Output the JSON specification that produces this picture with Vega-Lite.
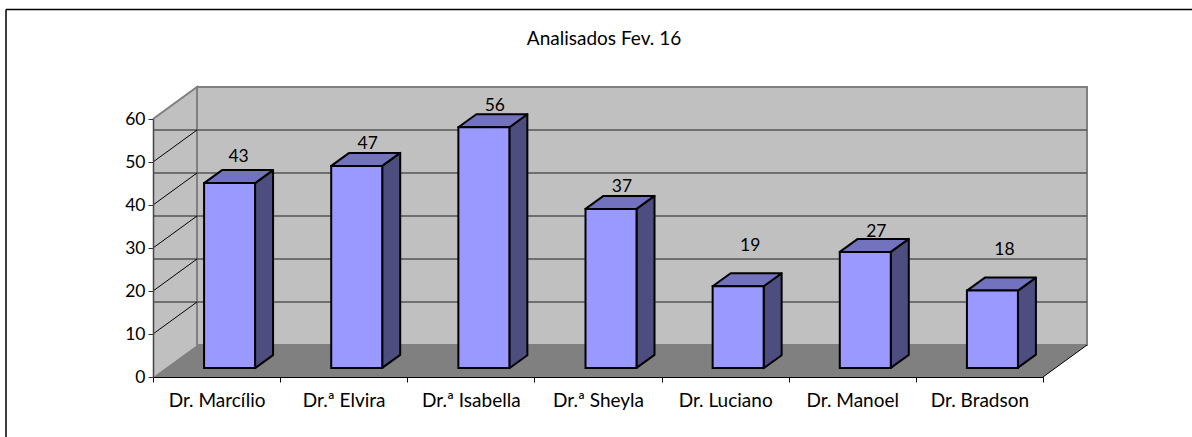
{
"$schema":"https://vega.github.io/schema/vega-lite/v6.json",
"width":890,"height":258,
"autosize":{"type":"none"},
"padding":{"left":153,"top":119,"right":149,"bottom":60},
"background":"white",
"title":{"text":"Analisados Fev. 16","font":"Lato","fontSize":19,"fontWeight":"normal","color":"#000000","anchor":"middle","dx":6,"offset":0,"dy":42},
"config":{"view":{"stroke":null},"font":"Lato"},
"datasets":{
"doctors":[
{"name":"Dr. Marcílio","value":43},
{"name":"Dr.ª Elvira","value":47},
{"name":"Dr.ª Isabella","value":56},
{"name":"Dr.ª Sheyla","value":37},
{"name":"Dr. Luciano","value":19},
{"name":"Dr. Manoel","value":27},
{"name":"Dr. Bradson","value":18}],
"ticks":[{"t":10},{"t":20},{"t":30},{"t":40},{"t":50}],
"one":[{"t":0}]
},
"encoding":{
"x":{"field":"name","type":"nominal","sort":null,"scale":{"type":"band","paddingInner":0,"paddingOuter":0,"domain":["Dr. Marcílio","Dr.ª Elvira","Dr.ª Isabella","Dr.ª Sheyla","Dr. Luciano","Dr. Manoel","Dr. Bradson"]},
"axis":{"title":null,"labelAngle":0,"labelFont":"Lato","labelFontSize":19,"labelColor":"#000000","labelPadding":9,"tickBand":"extent","tickSize":5,"tickColor":"#000000","domainColor":"#000000","zindex":1,"labelBaseline":"top"}},
"y":{"field":"value","type":"quantitative","scale":{"domain":[0,60],"nice":false},
"axis":{"title":null,"values":[0,10,20,30,40,50,60],"grid":false,"labelFont":"Lato","labelFontSize":17.5,"labelColor":"#000000","labelPadding":3,"tickSize":5,"tickColor":"#333333","domainColor":"#444444","domainWidth":1.5,"zindex":1}}
},
"layer":[
{"data":{"name":"one"},"mark":{"type":"point","shape":"M-147 -367.5L-147 60M-147 -367.5L1039 -367.5","size":4,"filled":false,"stroke":"#000000","strokeWidth":1.5,"opacity":1},
 "encoding":{"x":{"datum":"Dr. Marcílio","bandPosition":0},"y":{"field":"t","type":"quantitative"}}},
{"data":{"name":"one"},"mark":{"type":"point","shape":"M44 -32L44 -290L934 -290L934 -32Z","size":4,"filled":true,"fill":"#c0c0c0","stroke":"#808080","strokeWidth":2,"opacity":1},
 "encoding":{"x":{"datum":"Dr. Marcílio","bandPosition":0},"y":{"field":"t","type":"quantitative"}}},
{"data":{"name":"one"},"mark":{"type":"point","shape":"M0 0L0 -258L44 -290L44 -32Z","size":4,"filled":true,"fill":"#c0c0c0","opacity":1,"strokeWidth":0},
 "encoding":{"x":{"datum":"Dr. Marcílio","bandPosition":0},"y":{"field":"t","type":"quantitative"}}},
{"data":{"name":"one"},"mark":{"type":"point","shape":"M0 -258L44 -290L44 -32","size":4,"filled":false,"stroke":"#808080","strokeWidth":2,"opacity":1},
 "encoding":{"x":{"datum":"Dr. Marcílio","bandPosition":0},"y":{"field":"t","type":"quantitative"}}},
{"data":{"name":"one"},"mark":{"type":"point","shape":"M0 0L44 -32L934 -32L890 0Z","size":4,"filled":true,"fill":"#808080","opacity":1,"strokeWidth":0},
 "encoding":{"x":{"datum":"Dr. Marcílio","bandPosition":0},"y":{"field":"t","type":"quantitative"}}},
{"data":{"name":"one"},"mark":{"type":"point","shape":"M890 0L934 -32","size":4,"filled":false,"stroke":"#000000","strokeWidth":1,"opacity":1},
 "encoding":{"x":{"datum":"Dr. Marcílio","bandPosition":0},"y":{"field":"t","type":"quantitative"}}},
{"data":{"name":"ticks"},"mark":{"type":"rule","stroke":"#555555","strokeWidth":1.3,"xOffset":44,"x2Offset":44,"yOffset":-32},
 "encoding":{"x":null,"y":{"field":"t","type":"quantitative"}}},
{"data":{"name":"ticks"},"mark":{"type":"point","shape":"M0 0L44 -32","size":4,"filled":false,"stroke":"#000000","strokeWidth":1,"opacity":1},
 "encoding":{"x":{"datum":"Dr. Marcílio","bandPosition":0},"y":{"field":"t","type":"quantitative"}}},
{"data":{"name":"doctors"},"mark":{"type":"point","size":4,"filled":true,"fill":"#4d4d80","stroke":"#000000","strokeWidth":2,"opacity":1,"xOffset":13,"yOffset":-9,"strokeJoin":"round"},
 "encoding":{"shape":{"field":"name","type":"nominal","legend":null,"scale":{"domain":["Dr. Marcílio","Dr.ª Elvira","Dr.ª Isabella","Dr.ª Sheyla","Dr. Luciano","Dr. Manoel","Dr. Bradson"],"range":[
 "M25.5 0L43.5 -13L43.5 172L25.5 185Z",
 "M25.5 0L43.5 -13L43.5 189L25.5 202Z",
 "M25.5 0L43.5 -13L43.5 228L25.5 241Z",
 "M25.5 0L43.5 -13L43.5 146L25.5 159Z",
 "M25.5 0L43.5 -13L43.5 69L25.5 82Z",
 "M25.5 0L43.5 -13L43.5 103L25.5 116Z",
 "M25.5 0L43.5 -13L43.5 64L25.5 77Z"]}}}},
{"data":{"name":"doctors"},"mark":{"type":"point","shape":"M-25.5 0L-7.5 -13L43.5 -13L25.5 0Z","size":4,"filled":true,"fill":"#7272bf","stroke":"#000000","strokeWidth":2,"opacity":1,"xOffset":13,"yOffset":-9,"strokeJoin":"round"}},
{"data":{"name":"doctors"},"mark":{"type":"bar","width":51,"fill":"#9999ff","stroke":"#000000","strokeWidth":2,"xOffset":13,"yOffset":-9,"y2Offset":-9}},
{"data":{"name":"doctors"},"transform":[{"filter":"datum.value > 27 && datum.value !== 43"}],"mark":{"type":"text","font":"Lato","fontSize":17.5,"color":"#000000","xOffset":24,"yOffset":-25.5,"baseline":"alphabetic"},"encoding":{"text":{"field":"value","type":"quantitative"}}},
{"data":{"name":"doctors"},"transform":[{"filter":"datum.value === 27"}],"mark":{"type":"text","font":"Lato","fontSize":17.5,"color":"#000000","xOffset":24,"yOffset":-24,"baseline":"alphabetic"},"encoding":{"text":{"field":"value","type":"quantitative"}}},
{"data":{"name":"doctors"},"transform":[{"filter":"datum.value === 43"}],"mark":{"type":"text","font":"Lato","fontSize":17.5,"color":"#000000","xOffset":22,"yOffset":-30,"baseline":"alphabetic"},"encoding":{"text":{"field":"value","type":"quantitative"}}},
{"data":{"name":"doctors"},"transform":[{"filter":"datum.value === 19"}],"mark":{"type":"text","font":"Lato","fontSize":17.5,"color":"#000000","xOffset":25,"yOffset":-44,"baseline":"alphabetic"},"encoding":{"text":{"field":"value","type":"quantitative"}}},
{"data":{"name":"doctors"},"transform":[{"filter":"datum.value === 18"}],"mark":{"type":"text","font":"Lato","fontSize":17.5,"color":"#000000","xOffset":25,"yOffset":-45,"baseline":"alphabetic"},"encoding":{"text":{"field":"value","type":"quantitative"}}}
]
}
